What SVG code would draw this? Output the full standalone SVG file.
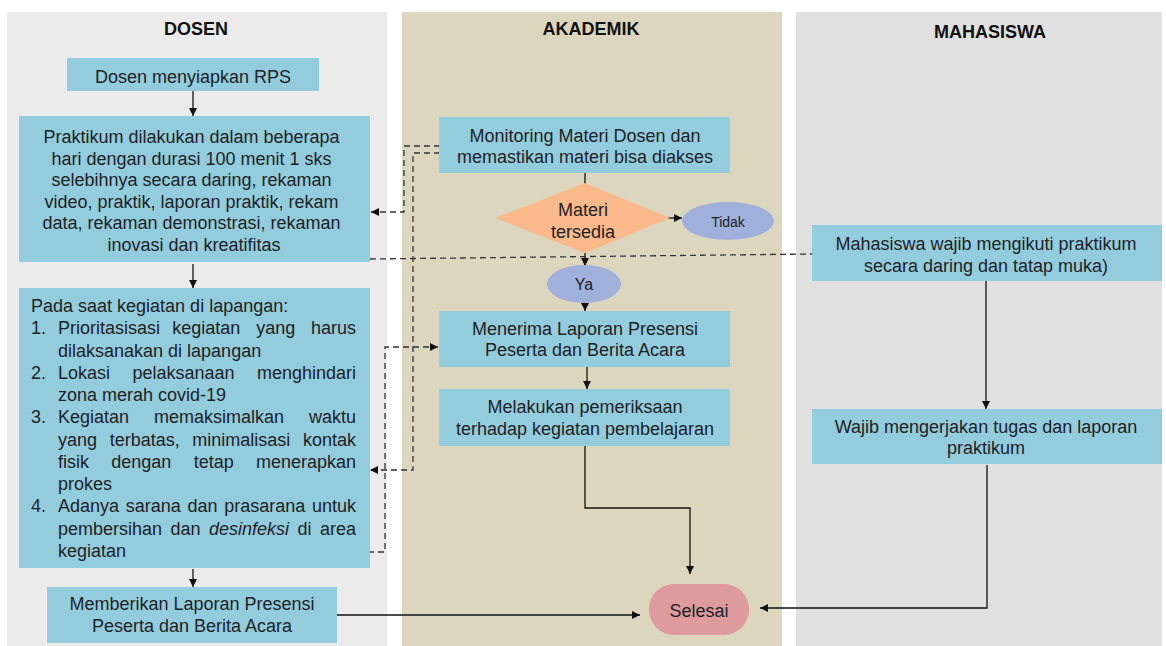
<svg xmlns="http://www.w3.org/2000/svg" width="1166" height="646" viewBox="0 0 1166 646">
  <style>
    text { font-family: "Liberation Sans", Arial, sans-serif; fill: #1e2226; }
    .hdr { font-size: 18px; font-weight: bold; text-anchor: middle; fill: #111; }
    .t { font-size: 18px; }
    .c { text-anchor: middle; }
    .box { fill: #93cddd; }
    .flow { fill: none; stroke: #111; stroke-width: 1.3; }
    .dash { fill: none; stroke: #333; stroke-width: 1.3; stroke-dasharray: 6 4; }
  </style>
  <defs>
    <marker id="arrow" markerUnits="userSpaceOnUse" markerWidth="9" markerHeight="9" refX="8" refY="4" orient="auto">
      <path d="M0,0 L8,4 L0,8 z" fill="#111"/>
    </marker>
  </defs>

  <rect width="1166" height="646" fill="#ffffff"/>

  <!-- swimlanes -->
  <g id="lanes">
    <rect x="7" y="12" width="380" height="634" fill="#ebebeb"/>
    <rect x="402" y="12" width="380" height="634" fill="#dcd6bf"/>
    <rect x="796" y="12" width="366" height="634" fill="#e0e0e0"/>
    <text class="hdr" x="196" y="35">DOSEN</text>
    <text class="hdr" x="591" y="35">AKADEMIK</text>
    <text class="hdr" x="990" y="38">MAHASISWA</text>
  </g>

  <!-- connectors -->
  <g id="connectors">
    <line class="flow" x1="193" y1="91" x2="193" y2="116" marker-end="url(#arrow)"/>
    <line class="flow" x1="193" y1="264" x2="193" y2="288" marker-end="url(#arrow)"/>
    <line class="flow" x1="193" y1="569" x2="193" y2="587" marker-end="url(#arrow)"/>
    <line class="flow" x1="337" y1="615" x2="640" y2="615" marker-end="url(#arrow)"/>
    <line class="flow" x1="585" y1="173" x2="585" y2="184"/>
    <line class="flow" x1="658" y1="218" x2="682" y2="218" marker-end="url(#arrow)"/>
    <line class="flow" x1="585" y1="253" x2="585" y2="266" marker-end="url(#arrow)"/>
    <line class="flow" x1="585" y1="302" x2="585" y2="311" marker-end="url(#arrow)"/>
    <line class="flow" x1="587" y1="367" x2="587" y2="389" marker-end="url(#arrow)"/>
    <path class="flow" d="M585,446 V508 H690 V574" marker-end="url(#arrow)"/>
    <line class="flow" x1="986" y1="281" x2="986" y2="409" marker-end="url(#arrow)"/>
    <path class="flow" d="M987,465 V608 H760" marker-end="url(#arrow)"/>

    <path class="dash" d="M440,146 H404 V212 H371" marker-end="url(#arrow)"/>
    <path class="dash" d="M440,153 H413 V470 H370" marker-end="url(#arrow)"/>
    <path class="dash" d="M338,552 H385 V347 H438" marker-end="url(#arrow)"/>
    <line class="dash" x1="370" y1="259" x2="812" y2="254"/>
  </g>

  <!-- DOSEN -->
  <g id="dosen-rps">
    <rect class="box" x="67" y="58" width="252" height="33"/>
    <text class="t c" x="193" y="83">Dosen menyiapkan RPS</text>
  </g>

  <g id="dosen-praktikum">
    <rect class="box" x="19" y="116" width="351" height="146"/>
    <text class="t c" x="194">
      <tspan x="194" y="143">Praktikum dilakukan dalam beberapa</tspan>
      <tspan x="194" y="164.6">hari dengan durasi 100 menit 1 sks</tspan>
      <tspan x="194" y="186.2">selebihnya secara daring, rekaman</tspan>
      <tspan x="194" y="207.8">video, praktik, laporan praktik, rekam</tspan>
      <tspan x="194" y="229.4">data, rekaman demonstrasi, rekaman</tspan>
      <tspan x="194" y="251">inovasi dan kreatifitas</tspan>
    </text>
  </g>

  <g id="dosen-lapangan">
    <rect class="box" x="19" y="288" width="351" height="280"/>
    <text class="t" x="31" y="312">Pada saat kegiatan di lapangan:</text>
    <text class="t" x="31" y="334.3">1.</text>
    <text class="t" y="334.3"><tspan x="58">Prioritasisasi</tspan><tspan x="172.3">kegiatan</tspan><tspan x="256.2">yang</tspan><tspan x="311.1">harus</tspan></text>
    <text class="t" x="58" y="356.5">dilaksanakan di lapangan</text>
    <text class="t" x="31" y="378.8">2.</text>
    <text class="t" y="378.8"><tspan x="58">Lokasi</tspan><tspan x="132.5">pelaksanaan</tspan><tspan x="257">menghindari</tspan></text>
    <text class="t" x="58" y="401.1">zona merah covid-19</text>
    <text class="t" x="31" y="423.4">3.</text>
    <text class="t" y="423.4"><tspan x="58">Kegiatan</tspan><tspan x="154">memaksimalkan</tspan><tspan x="309">waktu</tspan></text>
    <text class="t" y="445.6"><tspan x="58">yang</tspan><tspan x="109.7">terbatas,</tspan><tspan x="192.3">minimalisasi</tspan><tspan x="303">kontak</tspan></text>
    <text class="t" y="467.9"><tspan x="58">fisik</tspan><tspan x="111.3">dengan</tspan><tspan x="193.7">tetap</tspan><tspan x="256">menerapkan</tspan></text>
    <text class="t" x="58" y="490.2">prokes</text>
    <text class="t" x="31" y="512.4">4.</text>
    <text class="t" y="512.4"><tspan x="58">Adanya</tspan><tspan x="125.75">sarana</tspan><tspan x="187.5">dan</tspan><tspan x="224.25">prasarana</tspan><tspan x="312">untuk</tspan></text>
    <text class="t" y="534.7"><tspan x="58">pembersihan</tspan><tspan x="170.5">dan</tspan><tspan x="209" font-style="italic">desinfeksi</tspan><tspan x="297.5">di</tspan><tspan x="320">area</tspan></text>
    <text class="t" x="58" y="557">kegiatan</text>
  </g>

  <g id="dosen-laporan">
    <rect class="box" x="47" y="587" width="290" height="56"/>
    <text class="t c" x="192" y="610">Memberikan Laporan Presensi</text>
    <text class="t c" x="192" y="632">Peserta dan Berita Acara</text>
  </g>

  <!-- AKADEMIK -->
  <g id="akademik-monitoring">
    <rect class="box" x="439" y="117" width="291" height="56"/>
    <text class="t c" x="585" y="142">Monitoring Materi Dosen dan</text>
    <text class="t c" x="585" y="163">memastikan materi bisa diakses</text>
  </g>

  <g id="akademik-keputusan">
    <polygon points="585,183 670,218 585,253 495,218" fill="#f9b98b"/>
    <text class="t c" x="583" y="216" fill="#3a2a1e">Materi</text>
    <text class="t c" x="583" y="238" fill="#3a2a1e">tersedia</text>
  </g>

  <g id="akademik-tidak">
    <ellipse cx="728" cy="221" rx="46" ry="19" fill="#9fb1db"/>
    <text class="c" x="728" y="227" font-size="14">Tidak</text>
  </g>

  <g id="akademik-ya">
    <ellipse cx="584" cy="284" rx="37" ry="19" fill="#9fb1db"/>
    <text class="c" x="584" y="290" font-size="16">Ya</text>
  </g>

  <g id="akademik-menerima">
    <rect class="box" x="439" y="311" width="291" height="56"/>
    <text class="t c" x="585" y="335">Menerima Laporan Presensi</text>
    <text class="t c" x="585" y="356">Peserta dan Berita Acara</text>
  </g>

  <g id="akademik-pemeriksaan">
    <rect class="box" x="439" y="389" width="291" height="57"/>
    <text class="t c" x="585" y="413">Melakukan pemeriksaan</text>
    <text class="t c" x="585" y="435">terhadap kegiatan pembelajaran</text>
  </g>

  <g id="akademik-selesai">
    <rect x="649" y="584" width="100" height="51" rx="25" ry="25" fill="#dd9b9e"/>
    <text class="t c" x="699" y="617">Selesai</text>
  </g>

  <!-- MAHASISWA -->
  <g id="mahasiswa-praktikum">
    <rect class="box" x="812" y="225" width="350" height="56"/>
    <text class="t c" x="986" y="250">Mahasiswa wajib mengikuti praktikum</text>
    <text class="t c" x="986" y="272">secara daring dan tatap muka)</text>
  </g>

  <g id="mahasiswa-tugas">
    <rect class="box" x="812" y="409" width="350" height="55"/>
    <text class="t c" x="986" y="433">Wajib mengerjakan tugas dan laporan</text>
    <text class="t c" x="986" y="454">praktikum</text>
  </g>
</svg>
